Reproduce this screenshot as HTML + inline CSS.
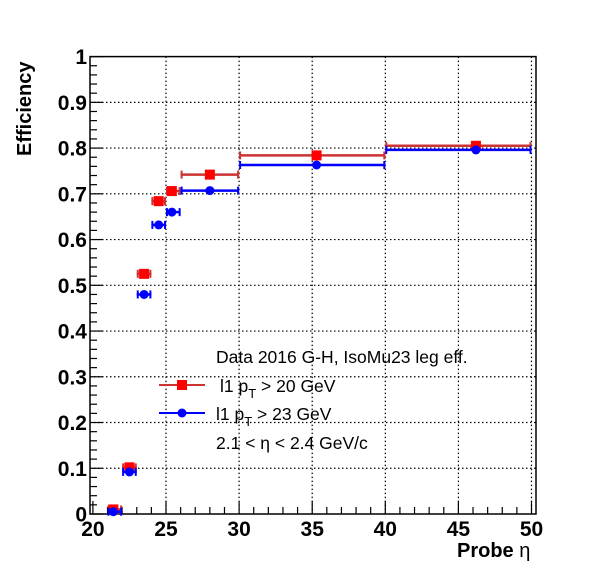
<!DOCTYPE html>
<html><head><meta charset="utf-8"><style>
body{margin:0;background:#fff;}
svg text{font-family:"Liberation Sans",Arial,sans-serif;}
</style></head><body>
<svg id="chart" width="596" height="572" xmlns="http://www.w3.org/2000/svg">
<rect width="596" height="572" fill="#fff"/>
<g id="grid"></g>
<g id="ticks"></g>
<rect x="90" y="56.6" width="446" height="457.4" fill="none" stroke="#000" stroke-width="1.5"/>
<g id="labels" font-weight="bold" font-size="21" fill="#000"></g>
<text x="457" y="557" font-size="20" font-weight="bold">Probe <tspan font-weight="normal">η</tspan></text>
<text transform="translate(31,156) rotate(-90)" font-size="20" font-weight="bold">Efficiency</text>
<g id="series"></g>
<g font-size="17.5">
<text x="216" y="363">Data 2016 G-H, IsoMu23 leg eff.</text>
<line x1="159" y1="385" x2="205" y2="385" stroke="#cc3333" stroke-width="2"/>
<rect x="177" y="380" width="10" height="10" fill="#f00"/>
<text x="220" y="392">l1 p<tspan font-size="13" dy="6">T</tspan><tspan dy="-6"> &gt; 20 GeV</tspan></text>
<line x1="159" y1="413" x2="205" y2="413" stroke="#00f" stroke-width="2"/>
<circle cx="182" cy="413" r="4.5" fill="#00f"/>
<text x="216" y="420">l1 p<tspan font-size="13" dy="6">T</tspan><tspan dy="-6"> &gt; 23 GeV</tspan></text>
<text x="216" y="449">2.1 &lt; η &lt; 2.4 GeV/c</text>
</g>
</svg>
<script>
const binLo=[21,22,23,24,25,26,30,40];
const binHi=[22,23,24,25,26,30,40,50];
const xPts=[21.4,22.5,23.5,24.5,25.4,28.0,35.3,46.2];
const effPt20=[0.010,0.102,0.525,0.684,0.706,0.742,0.784,0.805];
const effPt23=[0.005,0.092,0.480,0.632,0.660,0.707,0.763,0.796];
const xTicks=[20,25,30,35,40,45,50];
const yTicks=[0,0.1,0.2,0.3,0.4,0.5,0.6,0.7,0.8,0.9,1];
const yTickLabels=["0","0.1","0.2","0.3","0.4","0.5","0.6","0.7","0.8","0.9","1"];

const NS="http://www.w3.org/2000/svg";
const X=v=>92.9+(v-20)*14.62;
const Y=v=>514-v*457.4;
function mk(t,a,p){const e=document.createElementNS(NS,t);for(const k in a)e.setAttribute(k,a[k]);p.appendChild(e);return e;}
const grid=document.getElementById('grid'),ticks=document.getElementById('ticks'),labels=document.getElementById('labels'),series=document.getElementById('series');
xTicks.forEach(v=>{if(v>20){const l=mk('line',{x1:X(v),x2:X(v),y1:56.6,y2:514,stroke:'#000','stroke-width':1.2,'stroke-dasharray':'1.5 2.5'},grid);

}
const t=mk('text',{x:X(v),y:536,'text-anchor':'middle'},labels);t.textContent=v;

});
yTicks.forEach((v,i)=>{if(v>0&&v<1){const l=mk('line',{x1:90,x2:536,y1:Y(v),y2:Y(v),stroke:'#000','stroke-width':1.2,'stroke-dasharray':'1.5 2.5'},grid);

}
const t=mk('text',{x:87,y:Y(v)+7.5,'text-anchor':'end'},labels);t.textContent=yTickLabels[i];

});
for(let i=20;i<=50;i++){const maj=i%5===0;mk('line',{x1:X(i),x2:X(i),y1:514,y2:514-(maj?13:7),stroke:'#000','stroke-width':1.2},ticks);}
for(let i=0;i<=50;i++){const maj=i%5===0;mk('line',{x1:90,x2:90+(maj?13:7),y1:Y(i*0.02),y2:Y(i*0.02),stroke:'#000','stroke-width':1.2},ticks);}
function draw(vals,col,lc,sq,name){vals.forEach((v,i)=>{const g=mk('g',{},series);


const y=Y(v),x1=X(binLo[i]),x2=X(binHi[i]);
mk('line',{x1:x1,x2:x2,y1:y,y2:y,stroke:lc,'stroke-width':2.5},g);
mk('line',{x1:x1+1,x2:x1+1,y1:y-4,y2:y+4,stroke:lc,'stroke-width':2},g);
mk('line',{x1:x2-1,x2:x2-1,y1:y-4,y2:y+4,stroke:lc,'stroke-width':2},g);
const cx=X(xPts[i]);
if(sq)mk('rect',{x:cx-5,y:y-5,width:10,height:10,fill:col},g);else mk('circle',{cx:cx,cy:y,r:4.5,fill:col},g);});}
draw(effPt20,'#f00','#cc3333',true,'pt20');
draw(effPt23,'#00f','#0000ff',false,'pt23');
</script>
</body></html>
